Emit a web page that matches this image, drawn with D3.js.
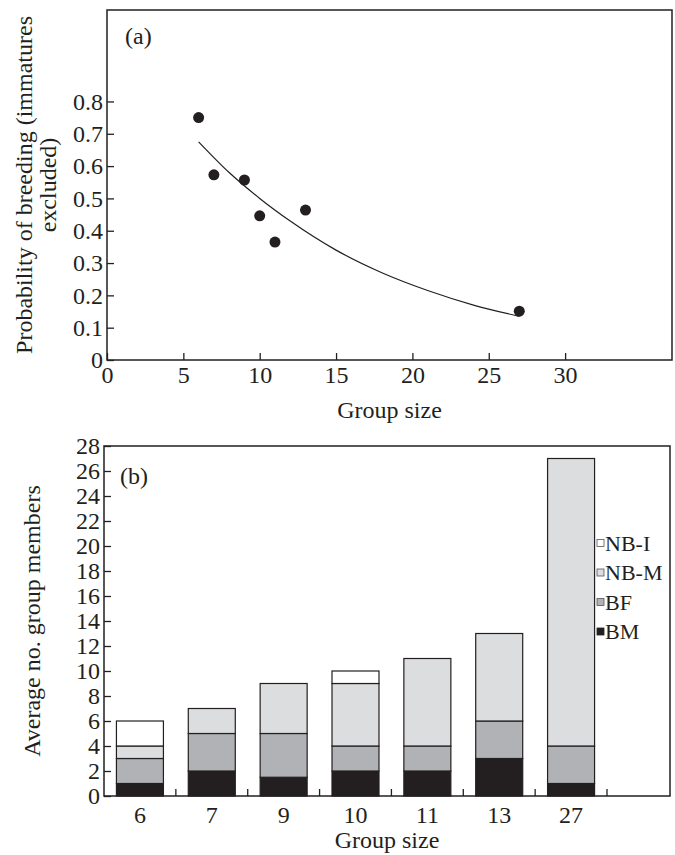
<!DOCTYPE html>
<html>
<head>
<meta charset="utf-8">
<script src="https://cdn.jsdelivr.net/npm/d3@7"></script>
<style>
  html, body { margin: 0; padding: 0; background: #fff; }
  svg { display: block; }
  text { font-family: "Liberation Serif", "Times New Roman", serif; fill: #231f20; }
</style>
</head>
<body>
<svg id="chart" width="675" height="855"></svg>
<script>
// ---- Panel (a) data ----
const groupSize = [6, 7, 9, 10, 11, 13, 27];
const probBreeding = [0.75, 0.573, 0.557, 0.446, 0.365, 0.464, 0.151];
const fitX = [6, 8, 10, 12, 15, 18, 21, 24, 27];
const fitY = [0.675, 0.58, 0.50, 0.43, 0.34, 0.27, 0.215, 0.17, 0.135];
const xTicksA = [0, 5, 10, 15, 20, 25, 30];
const yTicksA = [0, 0.1, 0.2, 0.3, 0.4, 0.5, 0.6, 0.7, 0.8];

// ---- Panel (b) data ----
const categories = ["6", "7", "9", "10", "11", "13", "27"];
const BM  = [1, 2, 1.5, 2, 2, 3, 1];
const BF  = [2, 3, 3.5, 2, 2, 3, 3];
const NBM = [1, 2, 4, 5, 7, 7, 23];
const NBI = [2, 0, 0, 1, 0, 0, 0];
const seriesKeys = ["BM", "BF", "NB-M", "NB-I"];
const legendOrder = ["NB-I", "NB-M", "BF", "BM"];
const yTicksB = d3.range(0, 29, 2);

const ink = "#231f20";
const colors = { "BM": "#231f20", "BF": "#b1b2b5", "NB-M": "#dcdddf", "NB-I": "#ffffff" };
const FS = 24;
const FONT = '"Liberation Serif", "Times New Roman", serif';

const svg = d3.select("#chart");

// ================= Panel (a) =================
const A = { left: 107, right: 672, top: 10, bottom: 360 };
const xA = d3.scaleLinear().domain([0, 37]).range([A.left, A.right]);
const yA = d3.scaleLinear().domain([0, 1.083]).range([A.bottom, A.top]);

const gA = svg.append("g");
gA.append("rect")
  .attr("x", A.left).attr("y", A.top)
  .attr("width", A.right - A.left).attr("height", A.bottom - A.top)
  .attr("fill", "none").attr("stroke", ink).attr("stroke-width", 1.5);

const axAx = gA.append("g").attr("transform", `translate(0,${A.bottom})`)
  .call(d3.axisBottom(xA).tickValues(xTicksA).tickFormat(d3.format("d"))
    .tickSizeInner(-7).tickSizeOuter(0).tickPadding(6));
const axAy = gA.append("g").attr("transform", `translate(${A.left},0)`)
  .call(d3.axisLeft(yA).tickValues(yTicksA).tickFormat(d => d === 0 ? "0" : d3.format(".1f")(d))
    .tickSizeInner(-7).tickSizeOuter(0).tickPadding(4));
[axAx, axAy].forEach(ax => {
  ax.select(".domain").remove();
  ax.selectAll("line").attr("stroke", ink).attr("stroke-width", 1.3);
  ax.selectAll("text").attr("font-size", FS).attr("fill", ink).style("font-family", FONT);
});

const line = d3.line().x((d, i) => xA(fitX[i])).y(d => yA(d)).curve(d3.curveMonotoneX);
gA.append("path").datum(fitY).attr("d", line)
  .attr("fill", "none").attr("stroke", ink).attr("stroke-width", 1.2);

gA.selectAll("circle.pt").data(groupSize).join("circle")
  .attr("class", "pt")
  .attr("cx", d => xA(d)).attr("cy", (d, i) => yA(probBreeding[i]))
  .attr("r", 5.5).attr("fill", ink);

gA.append("text").attr("x", 125).attr("y", 44).attr("font-size", FS).text("(a)");

gA.append("text").attr("x", (A.left + A.right) / 2).attr("y", 418)
  .attr("text-anchor", "middle").attr("font-size", FS).text("Group size");

const ytA = gA.append("text")
  .attr("transform", `translate(0,${(A.top + A.bottom) / 2}) rotate(-90)`)
  .attr("text-anchor", "middle").attr("font-size", FS);
ytA.append("tspan").attr("x", 0).attr("y", 32).text("Probability of breeding (immatures");
ytA.append("tspan").attr("x", 0).attr("y", 56).text("excluded)");

// ================= Panel (b) =================
const B = { left: 104, right: 670, top: 446, bottom: 796 };
const barsRight = 607;
const xB = d3.scaleBand().domain(categories).range([B.left, barsRight])
  .paddingInner(0.346).paddingOuter(0.173);
const yB = d3.scaleLinear().domain([0, 28]).range([B.bottom, B.top]);

const table = categories.map((c, i) => ({ cat: c, "BM": BM[i], "BF": BF[i], "NB-M": NBM[i], "NB-I": NBI[i] }));
const stacked = d3.stack().keys(seriesKeys)(table);

const gB = svg.append("g");

gB.selectAll("g.layer").data(stacked).join("g")
  .attr("class", "layer")
  .attr("fill", d => colors[d.key])
  .selectAll("rect").data(d => d.filter(s => s[1] - s[0] > 0)).join("rect")
  .attr("x", d => xB(d.data.cat)).attr("width", xB.bandwidth())
  .attr("y", d => yB(d[1])).attr("height", d => yB(d[0]) - yB(d[1]))
  .attr("stroke", ink).attr("stroke-width", 1.2);

gB.append("rect")
  .attr("x", B.left).attr("y", B.top)
  .attr("width", B.right - B.left).attr("height", B.bottom - B.top)
  .attr("fill", "none").attr("stroke", ink).attr("stroke-width", 1.5);

const axBy = gB.append("g").attr("transform", `translate(${B.left},0)`)
  .call(d3.axisLeft(yB).tickValues(yTicksB).tickFormat(d3.format("d"))
    .tickSizeInner(-7).tickSizeOuter(0).tickPadding(4));
const axBx = gB.append("g").attr("transform", `translate(0,${B.bottom})`)
  .call(d3.axisBottom(xB).tickSize(0).tickPadding(10));
[axBx, axBy].forEach(ax => {
  ax.select(".domain").remove();
  ax.selectAll("line").attr("stroke", ink).attr("stroke-width", 1.3);
  ax.selectAll("text").attr("font-size", FS).attr("fill", ink).style("font-family", FONT);
});
// tick marks between bars
gB.selectAll("line.sep").data(categories).join("line")
  .attr("class", "sep")
  .attr("x1", d => xB(d) + xB.bandwidth() + (xB.step() - xB.bandwidth()) / 2)
  .attr("x2", d => xB(d) + xB.bandwidth() + (xB.step() - xB.bandwidth()) / 2)
  .attr("y1", B.bottom).attr("y2", B.bottom - 7)
  .attr("stroke", ink).attr("stroke-width", 1.3);

gB.append("text").attr("x", 120).attr("y", 484).attr("font-size", FS).text("(b)");

gB.append("text").attr("x", (B.left + B.right) / 2).attr("y", 848)
  .attr("text-anchor", "middle").attr("font-size", FS).text("Group size");

gB.append("text")
  .attr("transform", `translate(40,${(B.top + B.bottom) / 2}) rotate(-90)`)
  .attr("text-anchor", "middle").attr("font-size", FS).text("Average no. group members");

// legend
const legend = gB.append("g");
const lg = legend.selectAll("g").data(legendOrder).join("g")
  .attr("transform", (d, i) => `translate(597,${543 + i * 29.5})`);
lg.append("rect").attr("x", 0).attr("y", -3.5).attr("width", 7).attr("height", 7)
  .attr("fill", d => colors[d]).attr("stroke", d => d === "BM" ? ink : "#555").attr("stroke-width", 0.8);
lg.append("text").attr("x", 8).attr("y", 7.5).attr("font-size", 22).text(d => d);
</script>
</body>
</html>
